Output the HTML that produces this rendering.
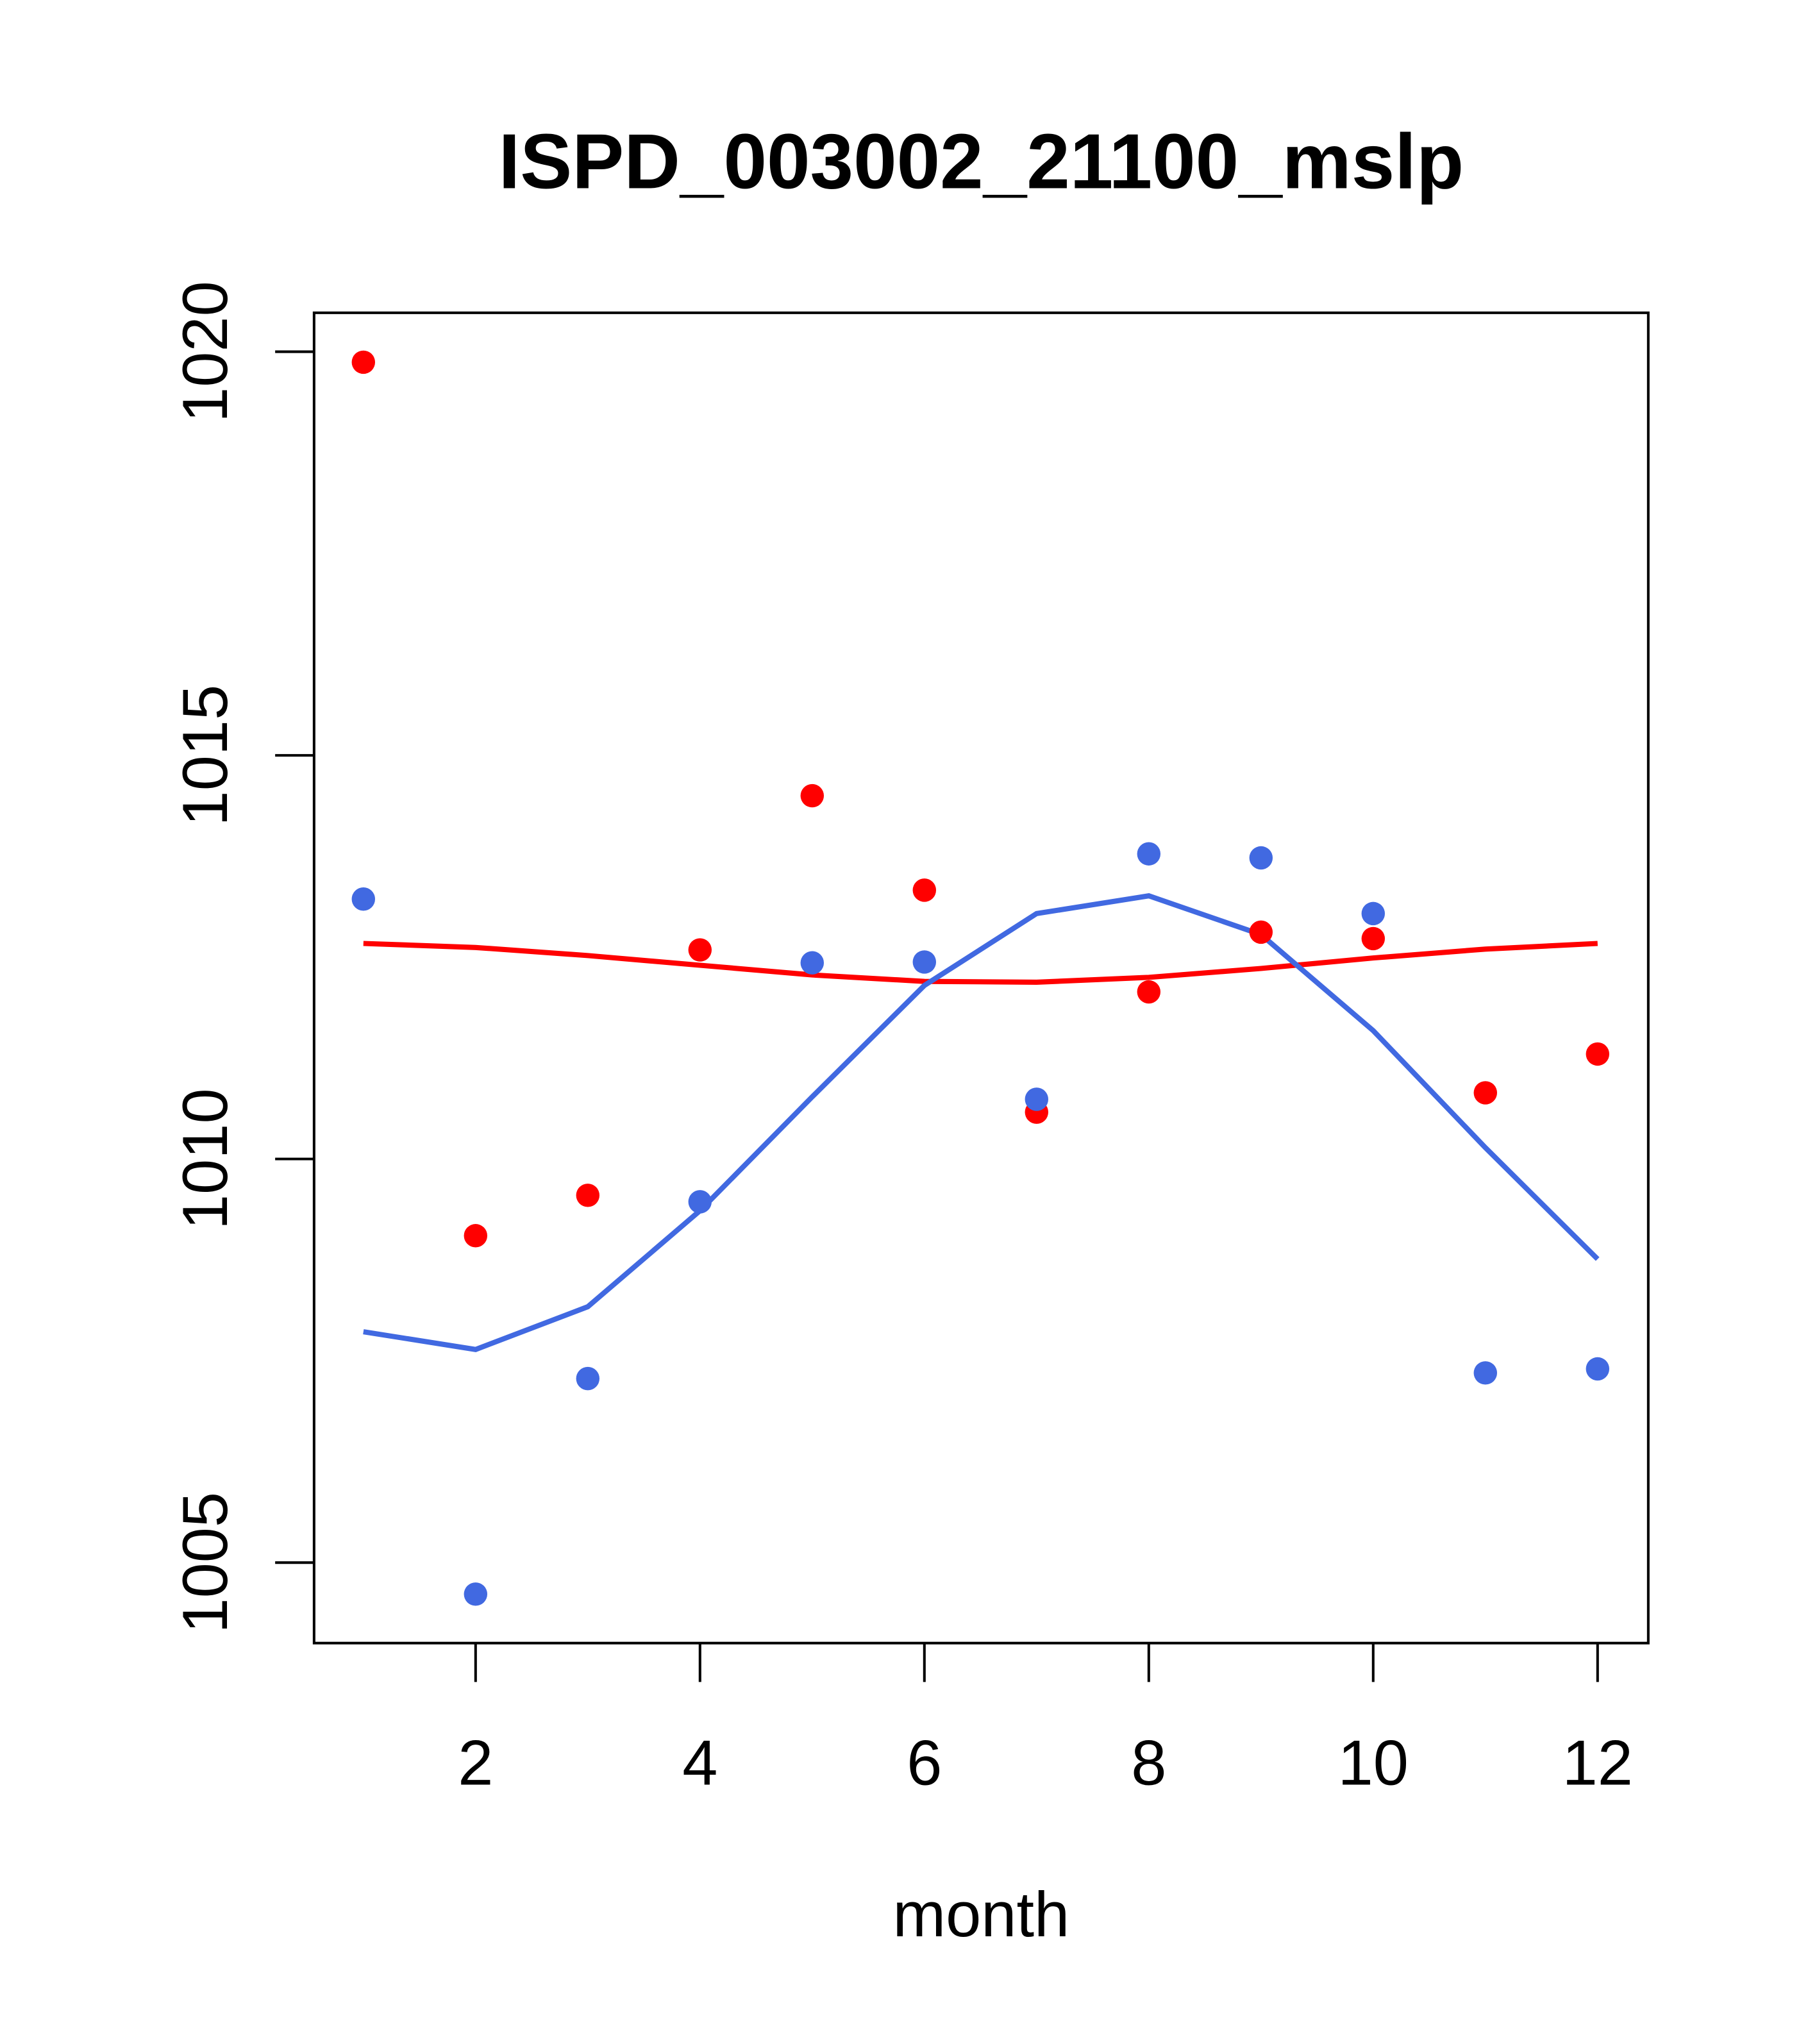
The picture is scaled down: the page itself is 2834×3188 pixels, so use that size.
<!DOCTYPE html>
<html><head><meta charset="utf-8"><style>html,body{margin:0;padding:0;background:#fff}svg{display:block}</style></head>
<body>
<svg id="chart" width="2834" height="3188" viewBox="0 0 1400 1574.9" preserveAspectRatio="none" xmlns="http://www.w3.org/2000/svg" font-family="Liberation Sans, Arial, sans-serif">
<rect width="1400" height="1575" fill="#fff"/>
<text x="756" y="145" font-size="60" font-weight="bold" text-anchor="middle">ISPD_003002_21100_mslp</text>
<rect x="242" y="241" width="1028" height="1025" fill="none" stroke="#000" stroke-width="2"/>
<text x="756" y="1492" font-size="49" text-anchor="middle">month</text>
<g id="axes"></g>
<g id="marks"></g>
</svg>
<script>
const months = [1,2,3,4,5,6,7,8,9,10,11,12];
const redPoints = [1019.87,1009.05,1009.55,1012.59,1014.50,1013.33,1010.58,1012.07,1012.81,1012.73,1010.82,1011.30];
const bluePoints = [1013.22,1004.61,1007.28,1009.47,1012.43,1012.44,1010.74,1013.78,1013.73,1013.04,1007.35,1007.40];
const redLine = [1012.67,1012.62,1012.52,1012.40,1012.28,1012.20,1012.19,1012.25,1012.36,1012.49,1012.60,1012.67];
const blueLine = [1007.86,1007.64,1008.17,1009.36,1010.77,1012.15,1013.04,1013.26,1012.78,1011.59,1010.14,1008.76];
const xTicks = [2,4,6,8,10,12];
const yTicks = [1005,1010,1015,1020];

const NS = "http://www.w3.org/2000/svg";
const xs = m => 280 + (m - 1) * 86.45;
const ys = v => 271 + (1020 - v) * 62.2;
const axes = document.getElementById('axes');
const marks = document.getElementById('marks');
function mk(tag, attrs, parent){const e=document.createElementNS(NS,tag);for(const k in attrs)e.setAttribute(k,attrs[k]);parent.appendChild(e);return e;}

xTicks.forEach(t=>{
  const l=mk('line',{x1:xs(t),x2:xs(t),y1:1266,y2:1296,stroke:'#000','stroke-width':2},axes);
  
  
  const tx=mk('text',{x:xs(t),y:1375,'font-size':49,'text-anchor':'middle'},axes);
  tx.textContent=t;
  
  
});
yTicks.forEach(t=>{
  const l=mk('line',{x1:212,x2:242,y1:ys(t),y2:ys(t),stroke:'#000','stroke-width':2},axes);
  
  
  const tx=mk('text',{x:175,y:ys(t),'font-size':49,'text-anchor':'middle',transform:`rotate(-90 175 ${ys(t)})`},axes);
  tx.textContent=t;
  
  
});
function line(vals,color,name){
  const p=mk('polyline',{points:vals.map((v,i)=>xs(months[i])+','+ys(v)).join(' '),fill:'none',stroke:color,'stroke-width':4},marks);
  
  
}
function pts(vals,color,name){
  vals.forEach((v,i)=>{
    const c=mk('circle',{cx:xs(months[i]),cy:ys(v),r:9,fill:color},marks);
    
    
  });
}
line(redLine,'#ff0000','red-smooth-line');
line(blueLine,'#4169e1','blue-smooth-line');
pts(redPoints,'#ff0000','red-point');
pts(bluePoints,'#4169e1','blue-point');
</script>
</body></html>
